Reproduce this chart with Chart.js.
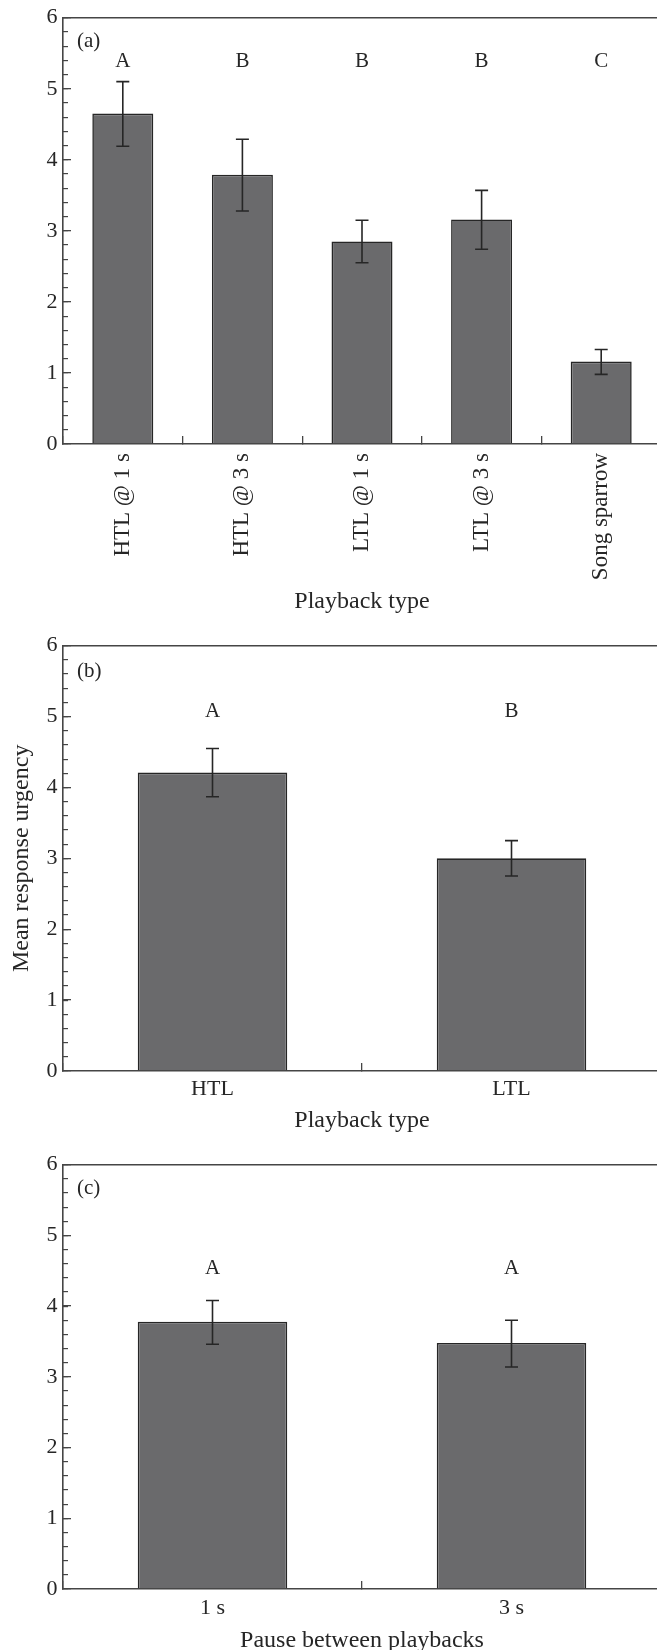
<!doctype html>
<html lang="en">

<head>
  <meta charset="utf-8">
  <title>response urgency</title>
  <meta name="viewport" content="width=device-width, initial-scale=1">
  <style>
    html, body {
      margin: 0;
      padding: 0;
      overflow: hidden;
      background: #fff;
    }
    canvas {
      position: absolute;
      left: 0;
    }
  </style>
</head>

<body>
  <canvas id="chartA" width="661" height="640" style="top:-9px"></canvas>
  <canvas id="chartB" width="661" height="525" style="top:619px"></canvas>
  <canvas id="chartC" width="661" height="532" style="top:1138px"></canvas>

  <script src="https://cdn.jsdelivr.net/npm/chart.js@4.4.1/dist/chart.umd.min.js"></script>
  <script>

  // (a) playback type x pause
  const labelsA = ['HTL @ 1 s', 'HTL @ 3 s', 'LTL @ 1 s', 'LTL @ 3 s', 'Song sparrow'];
  const meansA = [4.65, 3.79, 2.85, 3.16, 1.16];
  const upperA = [5.10, 4.29, 3.15, 3.57, 1.33];
  const lowerA = [4.19, 3.28, 2.55, 2.74, 0.98];
  const groupsA = ['A', 'B', 'B', 'B', 'C'];

  // (b) playback type
  const labelsB = ['HTL', 'LTL'];
  const meansB = [4.21, 3.00];
  const upperB = [4.55, 3.25];
  const lowerB = [3.87, 2.75];
  const groupsB = ['A', 'B'];

  // (c) pause between playbacks
  const labelsC = ['1 s', '3 s'];
  const meansC = [3.78, 3.48];
  const upperC = [4.08, 3.80];
  const lowerC = [3.46, 3.14];
  const groupsC = ['A', 'A'];

  const yTicks = [0, 1, 2, 3, 4, 5, 6];

  const serif = '"Liberation Serif", "Times New Roman", serif';
  const ink = '#262626';
  const axisColor = '#454545';

  // error bars, group letters and panel tag
  const extras = {
    id: 'extras',
    afterDatasetsDraw(chart, args, opts) {
      let ctx = chart.ctx;
      let y = chart.scales.y;
      let bars = chart.getDatasetMeta(0).data;
      ctx.save();
      ctx.strokeStyle = ink;
      ctx.lineWidth = 1.6;
      bars.forEach((bar, i) => {
        let top = y.getPixelForValue(opts.upper[i]);
        let bot = y.getPixelForValue(opts.lower[i]);
        ctx.beginPath();
        ctx.moveTo(bar.x, top); ctx.lineTo(bar.x, bot);
        ctx.moveTo(bar.x - 6.5, top); ctx.lineTo(bar.x + 6.5, top);
        ctx.moveTo(bar.x - 6.5, bot); ctx.lineTo(bar.x + 6.5, bot);
        ctx.stroke();
      });
      ctx.fillStyle = ink;
      ctx.font = '21px ' + serif;
      ctx.textBaseline = 'middle';
      ctx.textAlign = 'center';
      bars.forEach((bar, i) => {
        ctx.fillText(opts.groups[i], bar.x, y.getPixelForValue(opts.groupAt));
      });
      ctx.textAlign = 'left';
      ctx.fillText(opts.tag, chart.chartArea.left + 14, y.getPixelForValue(opts.tagAt));
      ctx.restore();
    }
  };

  function plot(id, labels, means, upper, lower, groups, p) {
    let ctx = document.getElementById(id).getContext('2d');

    let chart = new Chart(ctx, {
      type: 'bar',
      plugins: [extras],
      data: {
        labels: labels,
        datasets: [
          {
            data: means,
            backgroundColor: '#6a6a6c',
            borderColor: ink,
            borderWidth: 1.6,
            barPercentage: p.barPct,
            categoryPercentage: 1,
          },
        ],
      },
      options: {
        responsive: false,
        animation: false,
        layout: {
          // the y labels already ask for ~27px at the top
          padding: {top: 0, left: 0, right: 0, bottom: 0},
        },
        plugins: {
          legend: {display: false},
          tooltip: {enabled: false},
          extras: {
            upper: upper,
            lower: lower,
            groups: groups,
            groupAt: p.groupAt,
            tag: p.tag,
            tagAt: p.tagAt,
          },
        },
        scales: {
          x: {
            position: 'bottom',
            afterFit: (s) => { s.height = p.xHeight; },
            grid: {
              offset: true,
              drawOnChartArea: false,
              tickLength: -8,
              color: axisColor,
              lineWidth: 1.3,
            },
            border: {color: axisColor, width: 1.6},
            ticks: {
              autoSkip: false,
              minRotation: p.rot,
              maxRotation: p.rot,
              padding: p.xPad,
              color: ink,
              font: {family: serif, size: p.xFont},
            },
            title: {
              display: true,
              text: p.xTitle,
              color: ink,
              font: {family: serif, size: 24},
              padding: {top: 0, bottom: p.titlePad},
            },
          },
          top: {
            type: 'linear',
            position: 'top',
            afterFit: (s) => { s.height = 0; },
            grid: {display: true, drawOnChartArea: false, drawTicks: false},
            border: {color: axisColor, width: 1.6},
            ticks: {display: false},
          },
          y: {
            position: 'left',
            weight: 1,
            min: 0,
            max: 6,
            afterFit: (s) => { s.width = 63; },
            afterBuildTicks: (s) => { s.ticks = yTicks.map(v => ({value: v})); },
            grid: {
              drawOnChartArea: false,
              tickLength: -8,
              color: axisColor,
              lineWidth: 1.3,
            },
            border: {color: axisColor, width: 1.6},
            ticks: {
              padding: 13.5,
              color: ink,
              font: {family: serif, size: 22},
            },
            title: {
              display: p.yTitle != '',
              text: p.yTitle,
              color: ink,
              font: {family: serif, size: 24},
              padding: {top: 7, bottom: 0},
            },
          },
          yMinor: {
            position: 'left',
            weight: 0,
            min: 0,
            max: 6,
            afterFit: (s) => { s.width = 0; },
            grid: {
              drawOnChartArea: false,
              tickLength: -5,
              color: axisColor,
              lineWidth: 1.2,
            },
            border: {display: false},
            ticks: {display: false, stepSize: 0.2},
          },
        },
      },
    });
    return chart;
  }

  plot('chartA', labelsA, meansA, upperA, lowerA, groupsA, {
    xHeight: 187, rot: 90, xPad: 17, xFont: 23, xTitle: 'Playback type', titlePad: 15,
    yTitle: '', barPct: 0.51, groupAt: 5.39, tag: '(a)', tagAt: 5.67,
  });

  plot('chartB', labelsB, meansB, upperB, lowerB, groupsB, {
    xHeight: 73, rot: 0, xPad: 13, xFont: 22, xTitle: 'Playback type', titlePad: 9,
    yTitle: 'Mean response urgency', barPct: 0.5, groupAt: 5.07, tag: '(b)', tagAt: 5.63,
  });

  plot('chartC', labelsC, meansC, upperC, lowerC, groupsC, {
    xHeight: 81, rot: 0, xPad: 14, xFont: 22, xTitle: 'Pause between playbacks', titlePad: 15,
    yTitle: '', barPct: 0.5, groupAt: 4.53, tag: '(c)', tagAt: 5.66,
  });
  </script>

</body>
</html>
